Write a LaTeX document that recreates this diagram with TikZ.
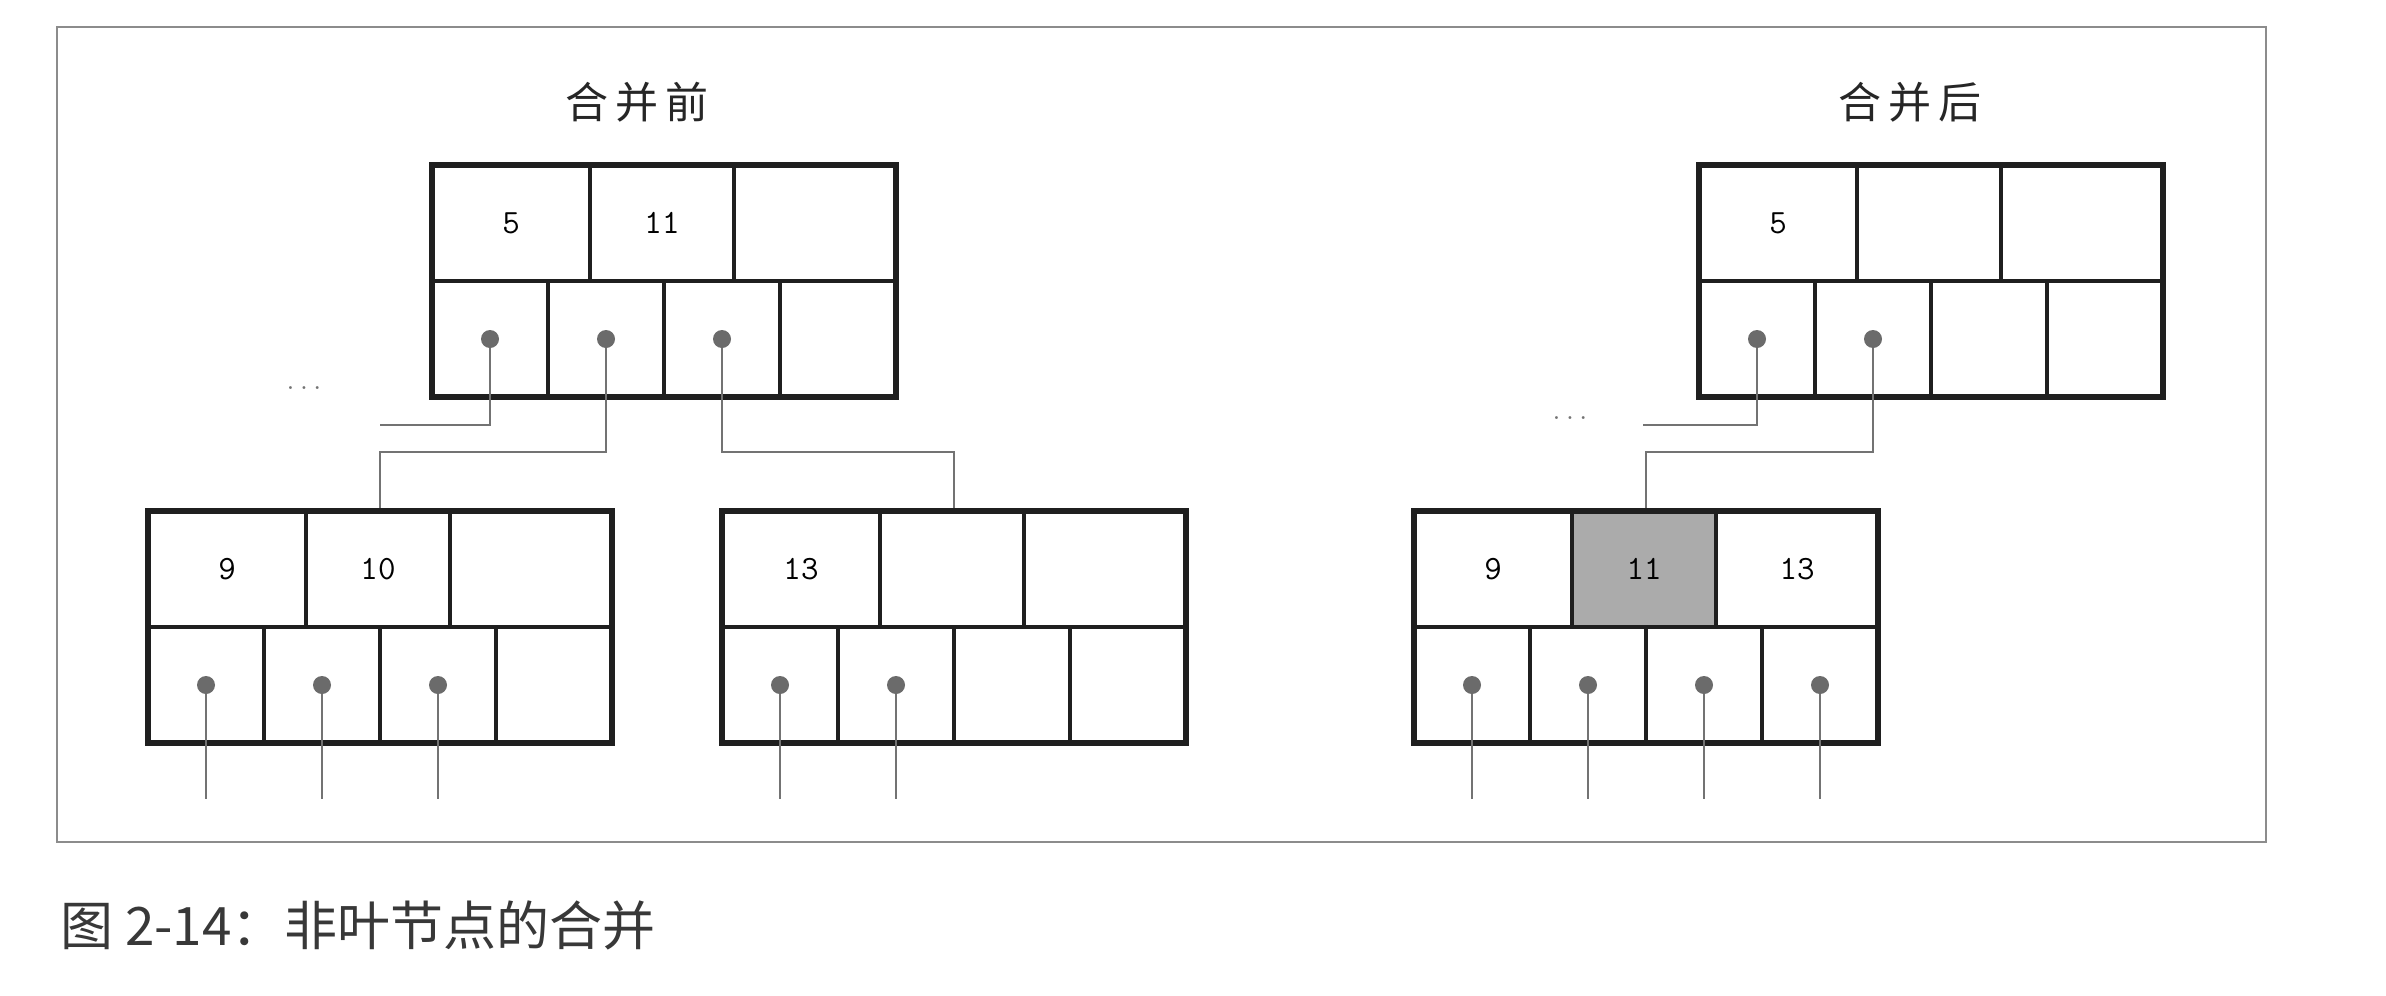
\documentclass[tikz,border=0pt]{standalone}
\usepackage{fontspec}
\newfontfamily\cjk{Noto Sans CJK SC}
\usetikzlibrary{calc}
\tikzset{
  cell/.style={draw=black!88, line width=4.5pt, minimum height=116pt, inner sep=0pt,
    font=\ttfamily\fontsize{34}{34}\selectfont, text=black},
  outerbox/.style={draw=black!88, line width=6.5pt, minimum width=464pt, minimum height=232pt, inner sep=0pt},
  ptr/.style={circle, fill=black!58, minimum size=18pt, inner sep=0pt},
  link/.style={draw=black!55, line width=2.5pt},
  framebox/.style={draw=black!45, line width=2.5pt},
  title/.style={font=\cjk\fontsize{43}{43}\selectfont, text=black!85, inner sep=0pt},
  ellip/.style={font=\ttfamily\fontsize{26}{26}\selectfont, text=black!55, inner sep=0pt},
  shaded/.style={fill=black!33},
}
% name, left x, top y, key1, key2, key3, style of key-2 cell
\newcommand\bnode[7]{%
  \node[cell, minimum width=158pt] (#1-k1) at ({#2+79},{#3+58}) {#4};
  \node[cell, minimum width=144pt, #7] (#1-k2) at ({#2+230},{#3+58}) {#5};
  \node[cell, minimum width=162pt] (#1-k3) at ({#2+383},{#3+58}) {#6};
  \foreach \i in {0,1,2,3} {
    \node[cell, minimum width=116pt] (#1-p\i) at ({#2+58+116*\i},{#3+174}) {};
  }
  \node[outerbox] (#1) at ({#2+232},{#3+116}) {};
}
\begin{document}
\begin{tikzpicture}[x=1pt, y=-1pt]
\useasboundingbox (0,0) rectangle (2386,996);
\fill[white] (0,0) rectangle (2386,996);
\draw[framebox] (57,27) rectangle (2266,842);

\node[title] (t1) at (637,102) {合\kern7pt 并\kern7pt 前};
\node[title] (t2) at (1910,102) {合\kern7pt 并\kern7pt 后};

\bnode{L}{432}{165}{5}{11}{}{}
\bnode{R}{1699}{165}{5}{}{}{}
\bnode{A}{148}{511}{9}{10}{}{}
\bnode{B}{722}{511}{13}{}{}{}
\bnode{M}{1414}{511}{9}{11}{13}{shaded}

% pointer dots
\foreach \n/\k in {L/0,L/1,L/2,R/0,R/1,A/0,A/1,A/2,B/0,B/1,M/0,M/1,M/2,M/3} {
  \node[ptr] (\n-d\k) at (\n-p\k.center) {};
}

% connectors of the parent nodes
\coordinate (Lend) at (380,425);
\coordinate (Rend) at (1643,425);
\draw[link] (L-d0) |- (Lend);
\draw[link] (L-d1) -- ++(0,113) -| (A.north);
\draw[link] (L-d2) -- ++(0,113) -| (B.north);
\draw[link] (R-d0) |- (Rend);
\draw[link] (R-d1) -- ++(0,113) -| (M.north);

% child pointers going down
\foreach \n/\k in {A/0,A/1,A/2,B/0,B/1,M/0,M/1,M/2,M/3} {
  \coordinate (\n-e\k) at ($(\n-p\k.center)+(0,114)$);
  \draw[link] (\n-d\k) -- (\n-e\k);
}

\node[ellip] (dl) at (304,388) {...};
\node[ellip] (dr) at (1570,418) {...};

\node[anchor=west, inner sep=0pt, font=\cjk\fontsize{53}{53}\selectfont, text=black!78] (cap) at (60,925) {图 2-14：非叶节点的合并};
\end{tikzpicture}
\end{document}
